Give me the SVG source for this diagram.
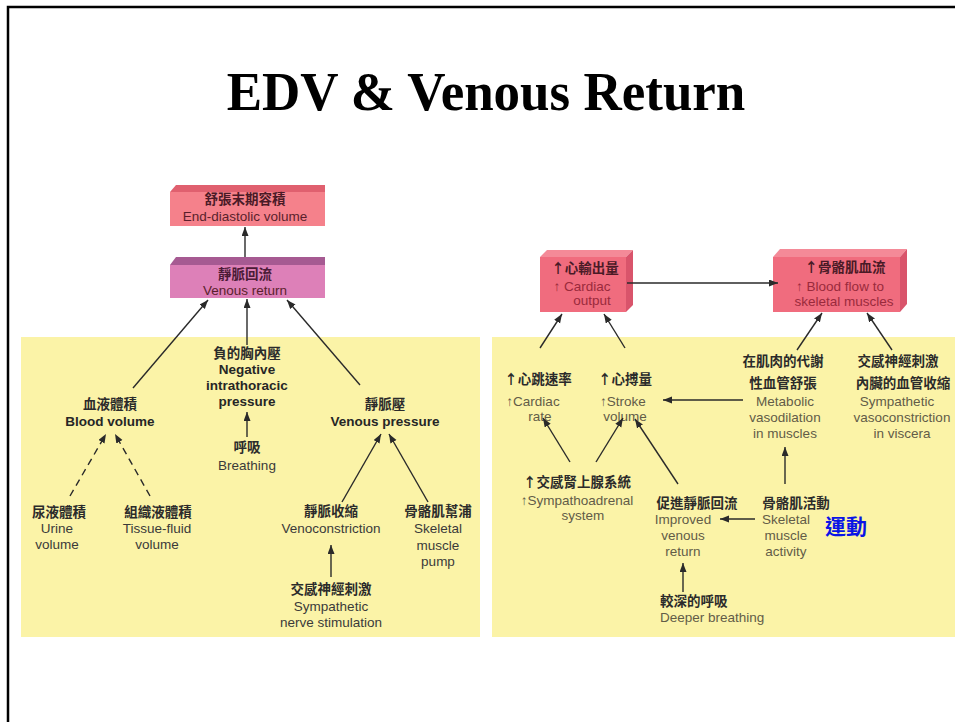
<svg xmlns="http://www.w3.org/2000/svg" width="955" height="722" viewBox="0 0 955 722">
  <defs>
    <marker id="ah" markerUnits="userSpaceOnUse" markerWidth="10" markerHeight="8" refX="9" refY="3.5" orient="auto">
      <path d="M0,0 L9,3.5 L0,7 z" fill="#2a2a2a"/>
    </marker>
    <style>
      .t{font-family:"Liberation Sans","Noto Sans CJK TC",sans-serif;font-size:13.5px;text-anchor:middle}
      .zh{font-family:"Noto Sans CJK TC","Liberation Sans",sans-serif;font-size:13.5px;font-weight:bold;fill:#2b2b2b;text-anchor:middle}
      .en{fill:#3a3a3a}
      .enb{fill:#262626;font-weight:bold}
      .eng{fill:#625c48}
      .bx{fill:#5a1f2c}
      .bxr{fill:#9a2a3c}
      .ln{stroke:#2a2a2a;stroke-width:1.4;fill:none;marker-end:url(#ah)}
      .dash{stroke-dasharray:7 5}
      .panel{fill:#fbf3a7}
    </style>
  </defs>

  <!-- slide frame -->
  <path d="M8,722 V7 H955" fill="none" stroke="#000" stroke-width="2.5"/>

  <!-- title -->
  <text x="486" y="110" transform="translate(0,-5.5) scale(1,1.05)" font-family="Liberation Serif,Times New Roman,serif" font-weight="bold" font-size="53" text-anchor="middle" fill="#000">EDV &amp; Venous Return</text>

  <!-- yellow panels -->
  <rect class="panel" x="21" y="337" width="459" height="300"/>
  <rect class="panel" x="492" y="337" width="463" height="300"/>

  <!-- left diagram -->
  <g id="edv">
    <polygon points="170,192 176,185 325,185 325,192" fill="#e0606f"/>
    <rect x="170" y="192" width="155" height="34" fill="#f5818b"/>
    <text class="zh" x="245" y="204" style="fill:#4a1a26">舒張末期容積</text>
    <text class="t bx" x="245" y="221">End-diastolic volume</text>
  </g>
  <g id="venous-return">
    <polygon points="170,265 176,257 325,257 325,265" fill="#a65a92"/>
    <rect x="170" y="265" width="155" height="33" fill="#dd80b8"/>
    <text class="zh" x="245" y="279" style="fill:#4a1a36">靜脈回流</text>
    <text class="t bx" x="245" y="295">Venous return</text>
  </g>
  <g id="negative-pressure">
    <text class="zh" x="247" y="358">負的胸內壓</text>
    <text class="t enb" x="247" y="374">Negative</text>
    <text class="t enb" x="247" y="390">intrathoracic</text>
    <text class="t enb" x="247" y="406">pressure</text>
  </g>
  <g id="blood-volume">
    <text class="zh" x="110" y="409">血液體積</text>
    <text class="t enb" x="110" y="426">Blood volume</text>
  </g>
  <g id="venous-pressure">
    <text class="zh" x="385" y="409">靜脈壓</text>
    <text class="t enb" x="385" y="426">Venous pressure</text>
  </g>
  <g id="breathing">
    <text class="zh" x="247" y="452">呼吸</text>
    <text class="t en" x="247" y="470">Breathing</text>
  </g>
  <g id="urine-volume">
    <text class="zh" x="59" y="517">尿液體積</text>
    <text class="t en" x="57" y="533">Urine</text>
    <text class="t en" x="57" y="549">volume</text>
  </g>
  <g id="tissue-fluid">
    <text class="zh" x="158" y="517">組織液體積</text>
    <text class="t en" x="157" y="533">Tissue-fluid</text>
    <text class="t en" x="157" y="549">volume</text>
  </g>
  <g id="venoconstriction">
    <text class="zh" x="331" y="516">靜脈收縮</text>
    <text class="t en" x="331" y="533">Venoconstriction</text>
  </g>
  <g id="muscle-pump">
    <text class="zh" x="438" y="516">骨骼肌幫浦</text>
    <text class="t en" x="438" y="533">Skeletal</text>
    <text class="t en" x="438" y="550">muscle</text>
    <text class="t en" x="438" y="566">pump</text>
  </g>
  <g id="sympathetic-nerve">
    <text class="zh" x="331" y="594">交感神經刺激</text>
    <text class="t en" x="331" y="611">Sympathetic</text>
    <text class="t en" x="331" y="627">nerve stimulation</text>
  </g>

  <!-- right diagram -->
  <g id="cardiac-output">
    <polygon points="540,257 547,250 633,250 626,257" fill="#f48a98"/>
    <polygon points="626,257 633,250 633,305 626,312" fill="#d9546b"/>
    <rect x="540" y="257" width="86" height="55" fill="#f06c7e"/>
    <text class="zh" x="585" y="273" style="fill:#4a1a26">↑心輸出量</text>
    <text class="t bxr" x="582" y="291">↑ Cardiac</text>
    <text class="t bxr" x="592" y="305">output</text>
  </g>
  <g id="muscle-blood-flow">
    <polygon points="773,257 780,249 907,249 900,257" fill="#f48a98"/>
    <polygon points="900,257 907,249 907,304 900,312" fill="#d9546b"/>
    <rect x="773" y="257" width="127" height="55" fill="#f06c7e"/>
    <text class="zh" x="845" y="272" style="fill:#4a1a26">↑骨骼肌血流</text>
    <text class="t bxr" x="840" y="291">↑ Blood flow to</text>
    <text class="t bxr" x="844" y="306">skeletal muscles</text>
  </g>
  <g id="heart-rate">
    <text class="zh" x="538" y="384">↑心跳速率</text>
    <text class="t eng" x="533" y="406">↑Cardiac</text>
    <text class="t eng" x="540" y="421">rate</text>
  </g>
  <g id="stroke-volume">
    <text class="zh" x="625" y="384">↑心搏量</text>
    <text class="t eng" x="623" y="406">↑Stroke</text>
    <text class="t eng" x="625" y="421">volume</text>
  </g>
  <g id="metabolic-vasodilation">
    <text class="zh" x="783" y="366">在肌肉的代謝</text>
    <text class="zh" x="783" y="388">性血管舒張</text>
    <text class="t eng" x="785" y="406">Metabolic</text>
    <text class="t eng" x="785" y="422">vasodilation</text>
    <text class="t eng" x="785" y="438">in muscles</text>
  </g>
  <g id="visceral-vasoconstriction">
    <text class="zh" x="898" y="366">交感神經刺激</text>
    <text class="zh" x="903" y="388">內臟的血管收縮</text>
    <text class="t eng" x="897" y="406">Sympathetic</text>
    <text class="t eng" x="902" y="422">vasoconstriction</text>
    <text class="t eng" x="902" y="438">in viscera</text>
  </g>
  <g id="sympathoadrenal">
    <text class="zh" x="577" y="487">↑交感腎上腺系統</text>
    <text class="t eng" x="577" y="505">↑Sympathoadrenal</text>
    <text class="t eng" x="583" y="520">system</text>
  </g>
  <g id="improved-return">
    <text class="zh" x="697" y="508">促進靜脈回流</text>
    <text class="t eng" x="683" y="524">Improved</text>
    <text class="t eng" x="683" y="540">venous</text>
    <text class="t eng" x="683" y="556">return</text>
  </g>
  <g id="muscle-activity">
    <text class="zh" x="796" y="508">骨骼肌活動</text>
    <text class="t eng" x="786" y="524">Skeletal</text>
    <text class="t eng" x="786" y="540">muscle</text>
    <text class="t eng" x="786" y="556">activity</text>
  </g>
  <g id="exercise">
    <text x="846" y="534" font-family="Noto Sans CJK TC,sans-serif" font-size="21" font-weight="bold" fill="#0a14e6" text-anchor="middle">運動</text>
  </g>
  <g id="deeper-breathing">
    <text class="zh" x="660" y="606" style="text-anchor:start">較深的呼吸</text>
    <text class="t eng" x="660" y="622" style="text-anchor:start">Deeper breathing</text>
  </g>

  <!-- connectors -->
  <g id="connectors">
    <line class="ln" x1="245" y1="257" x2="245" y2="227"/>
    <line class="ln" x1="133" y1="388" x2="208" y2="300"/>
    <line class="ln" x1="247" y1="345" x2="247" y2="299"/>
    <line class="ln" x1="360" y1="385" x2="287" y2="300"/>
    <line class="ln" x1="247" y1="437" x2="247" y2="412"/>
    <line class="ln dash" x1="70" y1="496" x2="106" y2="434"/>
    <line class="ln dash" x1="150" y1="496" x2="115" y2="434"/>
    <line class="ln" x1="342" y1="502" x2="381" y2="434"/>
    <line class="ln" x1="428" y1="502" x2="389" y2="434"/>
    <line class="ln" x1="331" y1="577" x2="331" y2="545"/>

    <line class="ln" x1="627" y1="283" x2="778" y2="283"/>
    <line class="ln" x1="540" y1="348" x2="562" y2="314"/>
    <line class="ln" x1="625" y1="348" x2="604" y2="314"/>
    <line class="ln" x1="797" y1="350" x2="822" y2="313"/>
    <line class="ln" x1="892" y1="350" x2="867" y2="313"/>
    <line class="ln" x1="743" y1="400" x2="663" y2="400"/>
    <line class="ln" x1="570" y1="462" x2="543" y2="418"/>
    <line class="ln" x1="596" y1="462" x2="623" y2="418"/>
    <line class="ln" x1="678" y1="484" x2="635" y2="419"/>
    <line class="ln" x1="785" y1="484" x2="785" y2="447"/>
    <line class="ln" x1="755" y1="519" x2="720" y2="519"/>
    <line class="ln" x1="683" y1="592" x2="683" y2="563"/>
  </g>
</svg>
